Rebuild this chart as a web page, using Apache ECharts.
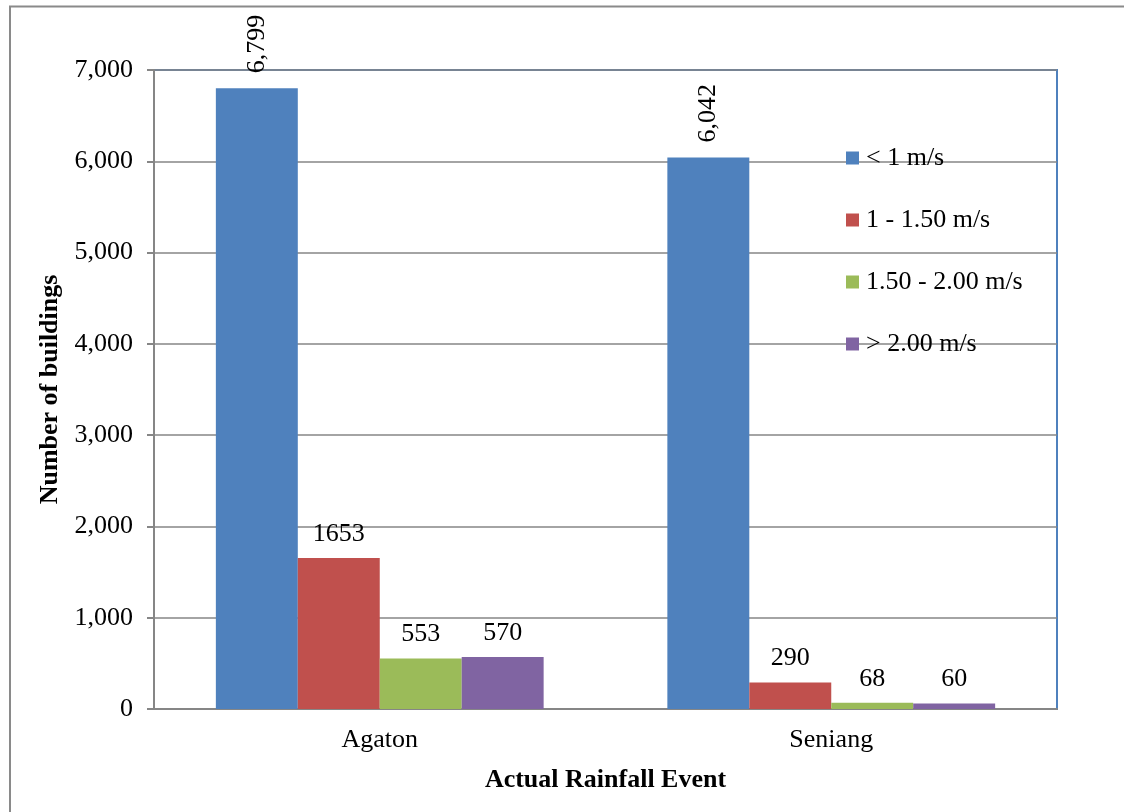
<!DOCTYPE html>
<html>
<head>
<meta charset="utf-8">
<script src="https://cdn.jsdelivr.net/npm/echarts@6/dist/echarts.min.js"></script>
<style>
html,body{margin:0;padding:0;background:#fff;}
#c{width:1124px;height:812px;}
</style>
</head>
<body>
<div id="c"></div>
<script>
var categories = ['Agaton', 'Seniang'];
var seriesNames = ['< 1 m/s', '1 - 1.50 m/s', '1.50 - 2.00 m/s', '> 2.00 m/s'];
var lt1 = [6799, 6042];
var r1to150 = [1653, 290];
var r150to200 = [553, 68];
var gt200 = [570, 60];
var colors = ['#4F81BD', '#C0504D', '#9BBB59', '#8064A2'];
var yMin = 0, yMax = 7000, yInterval = 1000;

var FONT = '"Liberation Serif", "Times New Roman", serif';
var FS = 26;
var chart = echarts.init(document.getElementById('c'), null, {renderer: 'canvas'});
var allData = [lt1, r1to150, r150to200, gt200];

function fmtComma(v){ return v.toString().replace(/\B(?=(\d{3})+(?!\d))/g, ','); }

var series = allData.map(function(d, i){
  var isFirst = i === 0;
  return {
    name: seriesNames[i],
    type: 'bar',
    data: d,
    barGap: '0%',
    barCategoryGap: '27.4%',
    itemStyle: {color: colors[i]},
    label: isFirst ? {
      show: true, position: 'top', rotate: 90, distance: 15,
      align: 'left', verticalAlign: 'middle',
      fontFamily: FONT, fontSize: FS, color: '#000',
      formatter: function(p){ return fmtComma(p.value); }
    } : {
      show: true, position: 'top', distance: 11,
      fontFamily: FONT, fontSize: FS, color: '#000',
      formatter: function(p){ return String(p.value); }
    }
  };
});

chart.setOption({
  animation: false,
  backgroundColor: '#fff',
  graphic: [
    {type: 'polyline', shape: {points: [[10, 812], [10, 6.5], [1124, 6.5]]},
     style: {stroke: '#8a8a8a', lineWidth: 2, fill: null}, z: 0}
  ],
  grid: {left: 154, right: 67, top: 70, bottom: 103, show: true,
         borderColor: '#4F81BD', borderWidth: 2, backgroundColor: 'transparent'},
  legend: {
    orient: 'vertical', left: 846, top: 145, padding: 0,
    itemWidth: 13, itemHeight: 13, itemGap: 36,
    icon: 'rect',
    textStyle: {fontFamily: FONT, fontSize: FS, lineHeight: 26, color: '#000', padding: [0,0,0,2]},
    data: seriesNames
  },
  xAxis: {
    type: 'category', data: categories,
    name: 'Actual Rainfall Event', nameLocation: 'middle', nameGap: 58,
    nameTextStyle: {fontFamily: FONT, fontSize: FS, fontWeight: 'bold', color: '#000'},
    axisLine: {lineStyle: {color: '#868686', width: 2}},
    axisTick: {show: false},
    axisLabel: {fontFamily: FONT, fontSize: FS, color: '#000', margin: 18}
  },
  yAxis: {
    type: 'value', min: yMin, max: yMax, interval: yInterval,
    name: 'Number of buildings', nameLocation: 'middle', nameGap: 86,
    nameTextStyle: {fontFamily: FONT, fontSize: FS, fontWeight: 'bold', color: '#000'},
    axisLine: {show: true, lineStyle: {color: '#868686', width: 2}},
    axisTick: {show: true, length: 7, lineStyle: {color: '#868686', width: 2}},
    axisLabel: {fontFamily: FONT, fontSize: FS, color: '#000', margin: 21,
      formatter: function(v){ return fmtComma(v); }},
    splitLine: {show: true, lineStyle: {color: '#868686', width: 1.5}}
  },
  series: series
});
</script>
</body>
</html>
